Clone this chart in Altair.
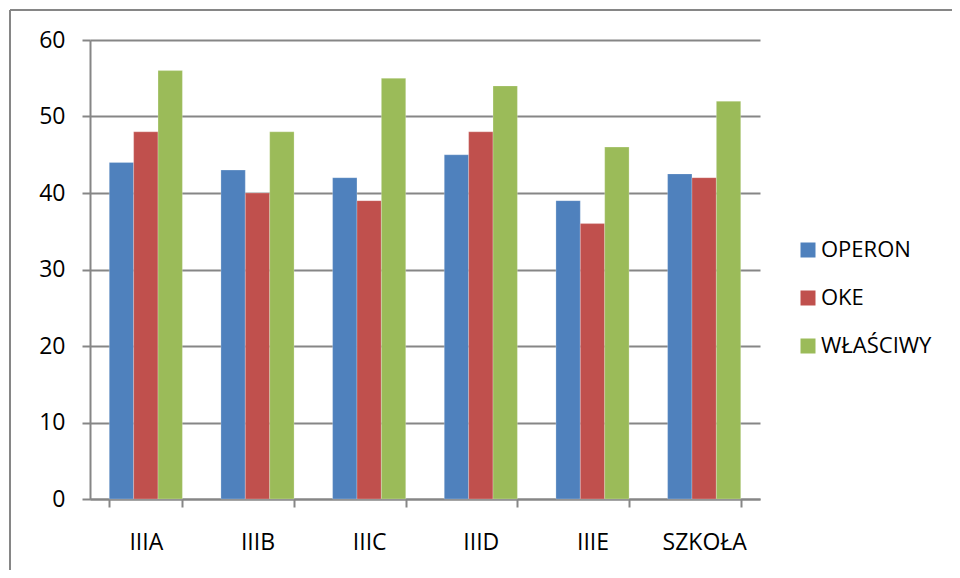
import altair as alt
import pandas as pd

categories = ["IIIA", "IIIB", "IIIC", "IIID", "IIIE", "SZKOŁA"]
series_names = ["OPERON", "OKE", "WŁAŚCIWY"]
operon = [44, 43, 42, 45, 39, 42.5]
oke = [48, 40, 39, 48, 36, 42]
wlasciwy = [56, 48, 55, 54, 46, 52]
colors = ["#4F81BD", "#C0504D", "#9BBB59"]

rows = []
for vals, name in zip([operon, oke, wlasciwy], series_names):
    for c, v in zip(categories, vals):
        rows.append({"kat": c, "seria": name, "wartosc": v})
df = pd.DataFrame(rows)

FONT = "Open Sans"
GRAY = "#868686"

bars = alt.Chart(df).mark_bar(stroke="white", strokeWidth=0.4, strokeOpacity=0.6).encode(
    x=alt.X("kat:N", sort=categories, title=None,
            scale=alt.Scale(paddingInner=0.345, paddingOuter=0.1725),
            axis=alt.Axis(labelAngle=0, tickBand="extent", ticks=True, tickSize=8,
                          labelPadding=24, labelFontSize=23, grid=False,
                          domainColor=GRAY, domainWidth=2, tickColor=GRAY, tickWidth=2,
                          labelFont=FONT, labelColor="black")),
    xOffset=alt.XOffset("seria:N", sort=series_names,
                        scale=alt.Scale(paddingInner=0, paddingOuter=0)),
    y=alt.Y("wartosc:Q", title=None,
            scale=alt.Scale(domain=[0, 60], nice=False),
            axis=alt.Axis(values=[0, 10, 20, 30, 40, 50, 60], tickSize=8,
                          labelPadding=17, labelFontSize=23, grid=True,
                          gridColor=GRAY, gridWidth=2, gridOpacity=1,
                          domainColor=GRAY, domainWidth=2, tickColor=GRAY, tickWidth=2,
                          labelFont=FONT, labelColor="black")),
    color=alt.Color("seria:N", sort=series_names,
                    scale=alt.Scale(domain=series_names, range=colors),
                    legend=alt.Legend(title=None, orient="none", legendX=707, legendY=199,
                                      symbolType="square", symbolSize=225,
                                      symbolStrokeWidth=0, labelFontSize=22,
                                      labelOffset=2, rowPadding=26, padding=0,
                                      labelFont=FONT, labelColor="black")),
)

frame_top = alt.Chart(pd.DataFrame({"a": [0]})).mark_rule(
    stroke=GRAY, strokeWidth=2
).encode(
    x=alt.value(-80), x2=alt.value(1000), y=alt.value(-30)
)
frame_left = alt.Chart(pd.DataFrame({"a": [0]})).mark_rule(
    stroke=GRAY, strokeWidth=2
).encode(
    x=alt.value(-80), y=alt.value(-30), y2=alt.value(1000)
)

chart = alt.layer(frame_top, frame_left, bars).properties(
    width=670, height=459,
    autosize=alt.AutoSizeParams(type="none"),
    padding={"left": 82, "top": 32, "right": 192, "bottom": 71},
    background="white",
).configure_view(stroke=None)

chart.save("out.html", embed_options={"renderer": "svg", "actions": False})
